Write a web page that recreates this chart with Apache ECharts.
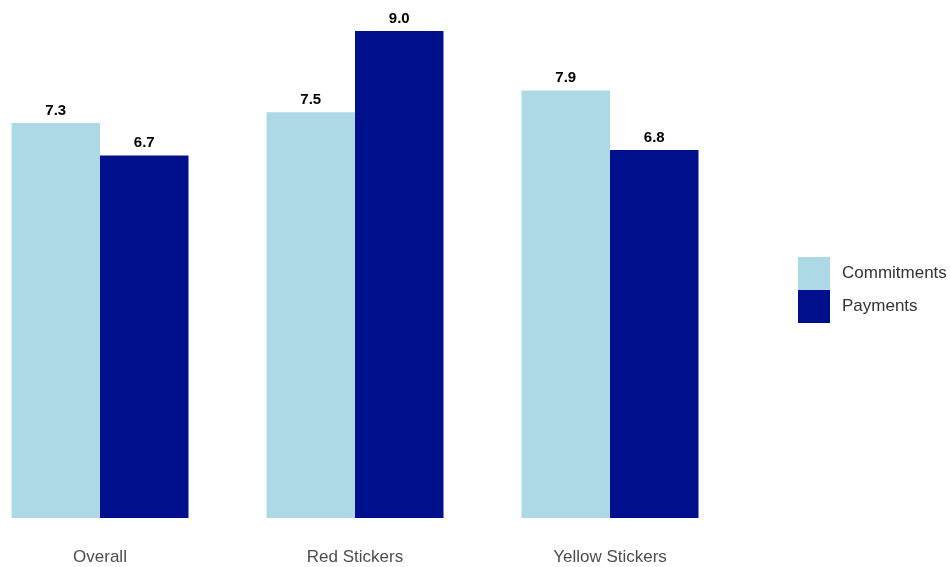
<!DOCTYPE html>
<html>
<head>
<meta charset="utf-8">
<script src="https://cdn.jsdelivr.net/npm/echarts@6/dist/echarts.min.js"></script>
<style>html,body{margin:0;padding:0;background:#fff;}#c{width:950px;height:567px;}</style>
</head>
<body>
<div id="c"></div>
<script>
var categories = ['Overall', 'Red Stickers', 'Yellow Stickers'];
var commitments = [7.3, 7.5, 7.9];
var payments = [6.7, 9.0, 6.8];
var seriesNames = ['Commitments', 'Payments'];

var chart = echarts.init(document.getElementById('c'), null, {renderer: 'canvas'});
var labelStyle = {
  show: true, position: 'top', distance: 5,
  fontFamily: 'Liberation Sans, Arial, sans-serif', fontWeight: 'bold', fontSize: 15, color: '#000',
  formatter: function (p) { return p.value.toFixed(1); }
};
chart.setOption({
  animation: false,
  backgroundColor: '#ffffff',
  grid: { left: 100, width: 510, top: 4, height: 514, containLabel: false },
  xAxis: {
    type: 'category', data: categories, boundaryGap: false,
    axisLine: { show: false }, axisTick: { show: false }, splitLine: { show: false },
    axisLabel: { margin: 31, fontFamily: 'Liberation Sans, Arial, sans-serif', fontSize: 17, color: '#4d4d4d' }
  },
  yAxis: {
    type: 'value', min: 0, max: 9.5,
    show: false, splitLine: { show: false }
  },
  legend: {
    orient: 'vertical', left: 793, top: 252,
    itemWidth: 32, itemHeight: 33, itemGap: 0,
    icon: 'rect',
    textStyle: { fontFamily: 'Liberation Sans, Arial, sans-serif', fontSize: 17, color: '#333', padding: [0, 0, 0, 7] },
    data: seriesNames
  },
  series: [
    { name: seriesNames[0], type: 'bar', data: commitments, barGap: '0%', barWidth: 88.5, clip: false,
      itemStyle: { color: '#ADD8E6' }, label: labelStyle },
    { name: seriesNames[1], type: 'bar', data: payments, barGap: '0%', barWidth: 88.5, clip: false,
      itemStyle: { color: '#00108C' }, label: labelStyle }
  ]
});
</script>
</body>
</html>
